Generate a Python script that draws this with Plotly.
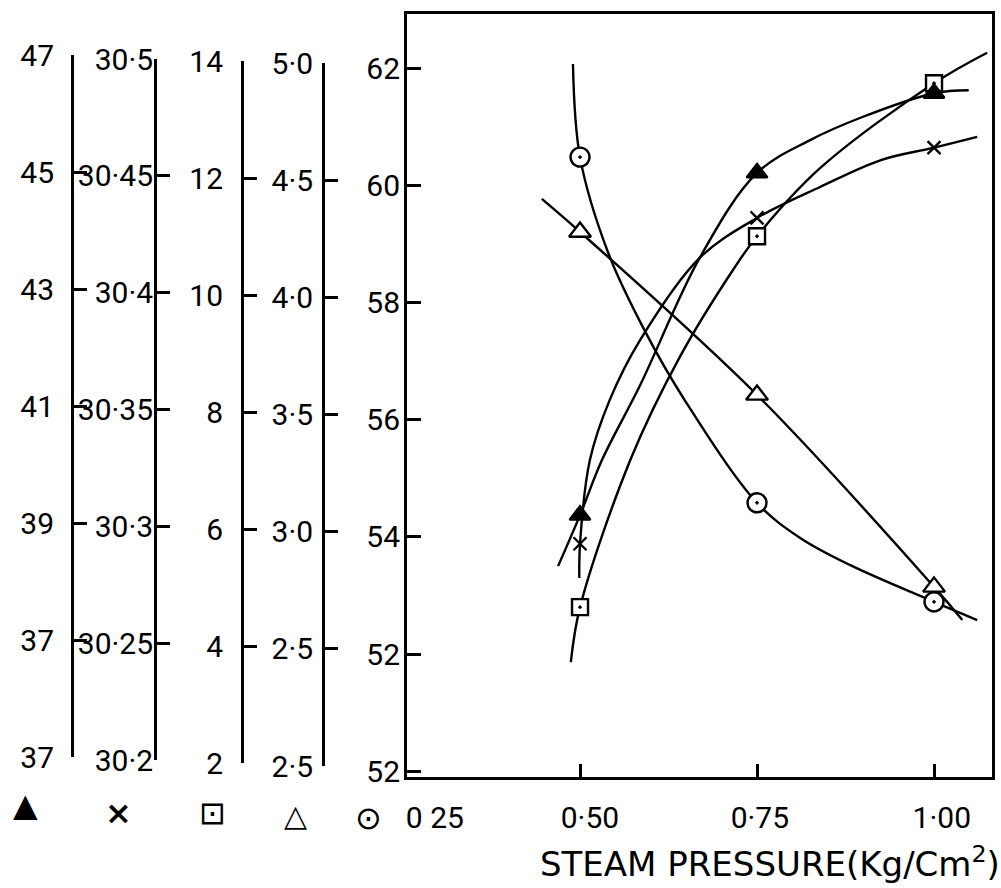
import plotly.graph_objects as go

W, H = 1001, 888

# ---------------- data ----------------
pressure = [0.50, 0.75, 1.00]

circle_vals = [60.48, 54.58, 52.89]        # ⊙  (scale 52-62)
tri_open_vals = [4.30, 3.605, 2.786]       # △  (scale 2.5-5.0)
square_vals = [4.80, 11.13, 13.74]         # □  (scale 2-14)
cross_vals = [30.297, 30.436, 30.466]      # ×  (scale 30.2-30.5)
tri_fill_vals = [39.37, 45.21, 46.57]      # ▲  (scale 37-47)

# hand-drawn fitted curves
circle_curve_x = [0.490, 0.50, 0.540, 0.593, 0.648, 0.75, 0.811, 0.881, 1.00, 1.061]
circle_curve_y = [62.07, 60.48, 58.84, 57.48, 56.33, 54.58, 53.98, 53.52, 52.89, 52.58]

tri_open_curve_x = [0.446, 0.50, 0.75, 1.00, 1.040]
tri_open_curve_y = [4.441, 4.30, 3.605, 2.786, 2.645]

square_curve_x = [0.487, 0.50, 0.571, 0.641, 0.716, 0.75, 0.839, 1.00, 1.075]
square_curve_y = [3.86, 4.80, 7.31, 9.07, 10.553, 11.13, 12.29, 13.74, 14.26]

cross_curve_x = [0.499, 0.50, 0.514, 0.542, 0.585, 0.669, 0.75, 0.839, 0.925, 1.00, 1.061]
cross_curve_y = [30.2824, 30.297, 30.3328, 30.3584, 30.384, 30.419, 30.436, 30.4492, 30.4607, 30.466, 30.4706]

tri_fill_curve_x = [0.469, 0.50, 0.531, 0.585, 0.669, 0.75, 0.825, 0.898, 1.00, 1.049]
tri_fill_curve_y = [38.50, 39.37, 40.31, 41.59, 43.76, 45.21, 45.77, 46.16, 46.57, 46.62]

# tick values / labels of the five scales
tri_fill_ticks = [47, 45, 43, 41, 39, 37, 35]
tri_fill_ticktext = ["47", "45", "43", "41", "39", "37", "37"]
cross_ticks = [30.5, 30.45, 30.4, 30.35, 30.3, 30.25, 30.2]
cross_ticktext = ["30·5", "30·45", "30·4", "30·35", "30·3", "30·25", "30·2"]
square_ticks = [14, 12, 10, 8, 6, 4, 2]
square_ticktext = ["14", "12", "10", "8", "6", "4", "2"]
tri_open_ticks = [5.0, 4.5, 4.0, 3.5, 3.0, 2.5, 2.0]
tri_open_ticktext = ["5·0", "4·5", "4·0", "3·5", "3·0", "2·5", "2·5"]
circle_ticks = [62, 60, 58, 56, 54, 52, 50]
circle_ticktext = ["62", "60", "58", "56", "54", "52", "52"]

x_tick_marks = [0.50, 0.75, 1.00]
x_label_pos = [0.295, 0.514, 0.754, 1.011]
x_label_text = ["0 25", "0·50", "0·75", "1·00"]

legend_symbols = ["▲", "<b>×</b>", "⊡", "△", "⊙"]

# ---------------- helpers ----------------
def px(x):
    return x / W

def py(y):
    return 1 - y / H

TICKFONT = dict(family="Roboto, DejaVu Sans", size=30, color="black")
LINE = dict(color="black", width=2.4)

fig = go.Figure()

series = [
    (circle_curve_x, circle_curve_y, circle_vals, "y", "circle-dot", "white", 19),
    (tri_open_curve_x, tri_open_curve_y, tri_open_vals, "y2", "triangle-up", "white", 19),
    (square_curve_x, square_curve_y, square_vals, "y3", "square-dot", "white", 16),
    (cross_curve_x, cross_curve_y, cross_vals, "y4", "x-thin", "black", 13),
    (tri_fill_curve_x, tri_fill_curve_y, tri_fill_vals, "y5", "triangle-up", "black", 18),
]
for cx, cy, vals, yax, sym, fill, size in series:
    fig.add_trace(go.Scatter(x=cx, y=cy, mode="lines", yaxis=yax,
                             line=dict(shape="spline", smoothing=1.0, **LINE),
                             showlegend=False, hoverinfo="skip"))
for cx, cy, vals, yax, sym, fill, size in series:
    fig.add_trace(go.Scatter(x=pressure, y=vals, mode="markers", yaxis=yax,
                             marker=dict(symbol=sym, size=size, color=fill,
                                         line=dict(color="black", width=2.4)),
                             showlegend=False, cliponaxis=False))

# empty traces so that the bracket scales get drawn
for yax in ["y6", "y7", "y8", "y9"]:
    fig.add_trace(go.Scatter(x=[], y=[], xaxis="x2", yaxis=yax, showlegend=False, hoverinfo="skip"))

# ---------------- layout ----------------
frame_left, frame_right, frame_top, frame_bottom = 407, 992, 14, 777
x_dom = [px(frame_left), px(frame_right)]
y_dom = [py(frame_bottom), py(frame_top)]

def bracket(position_px, top_px, bottom_px, rng, vals, text, standoff):
    return dict(domain=[py(bottom_px), py(top_px)], range=rng, anchor="free", position=px(position_px),
                side="left", showline=True, linecolor="black", linewidth=2.8,
                ticks="inside", ticklen=13, tickwidth=2.8, tickcolor="black",
                tickmode="array", tickvals=vals, ticktext=text, tickfont=TICKFONT,
                ticklabelstandoff=standoff, showgrid=False, zeroline=False, fixedrange=True,
                automargin=False)

layout = dict(
    template="none",
    width=W, height=H, margin=dict(l=0, r=0, t=0, b=0, autoexpand=False),
    paper_bgcolor="white", plot_bgcolor="rgba(0,0,0,0)", showlegend=False,
    xaxis=dict(domain=x_dom, range=[0.2556, 1.0819], showline=True, mirror=True, linecolor="black", linewidth=2.8,
               tickmode="array", tickvals=x_label_pos, ticktext=x_label_text, ticks="", tickfont=TICKFONT,
               ticklabelstandoff=12,
               minor=dict(tickmode="array", tickvals=x_tick_marks, ticks="inside", ticklen=13, tickwidth=2.8,
                          tickcolor="black", showgrid=False),
               showgrid=False, zeroline=False, anchor="y", automargin=False),
    xaxis2=dict(domain=x_dom, range=[0, 1], visible=False, anchor="free", position=0, automargin=False),
    yaxis=dict(domain=y_dom, range=[49.901, 62.922], showline=True, mirror=True, linecolor="black", linewidth=2.8,
               ticks="inside", ticklen=14, tickwidth=2.8, tickcolor="black", tickmode="array",
               tickvals=circle_ticks, ticktext=circle_ticktext, tickfont=TICKFONT, ticklabelstandoff=-2,
               showgrid=False, zeroline=False, anchor="x", automargin=False),
    yaxis2=dict(overlaying="y", range=[1.975, 5.230], visible=False, anchor="x", automargin=False),
    yaxis3=dict(overlaying="y", range=[1.901, 14.922], visible=False, anchor="x", automargin=False),
    yaxis4=dict(overlaying="y", range=[30.1975, 30.523], visible=False, anchor="x", automargin=False),
    yaxis5=dict(overlaying="y", range=[34.901, 47.922], visible=False, anchor="x", automargin=False),
    yaxis6=bracket(72, 55, 757, [35, 47], tri_fill_ticks, tri_fill_ticktext, 11),
    yaxis7=bracket(155, 59, 760, [30.2, 30.5], cross_ticks, cross_ticktext, -5),
    yaxis8=bracket(242, 61, 763, [2, 14], square_ticks, square_ticktext, 12),
    yaxis9=bracket(323, 63, 766, [2.0, 5.0], tri_open_ticks, tri_open_ticktext, 3),
)
fig.update_layout(**layout)

# axis title
fig.add_annotation(text="STEAM PRESSURE(Kg/Cm<sup>2</sup>)", x=px(770), y=py(862), xref="paper", yref="paper",
                   showarrow=False, xanchor="center", yanchor="middle",
                   font=dict(family="DejaVu Sans", size=34, color="black"))

# symbol keys under each scale
key_pos = [(25, 805), (118, 813), (212, 813), (295, 815), (368, 818)]
key_size = [32, 32, 32, 30, 32]
for s, (kx, ky), ks in zip(legend_symbols, key_pos, key_size):
    fig.add_annotation(text=s, x=px(kx), y=py(ky), xref="paper", yref="paper", showarrow=False,
                       xanchor="center", yanchor="middle", font=dict(family="DejaVu Sans", size=ks, color="black"))

fig.write_html("out.html")
